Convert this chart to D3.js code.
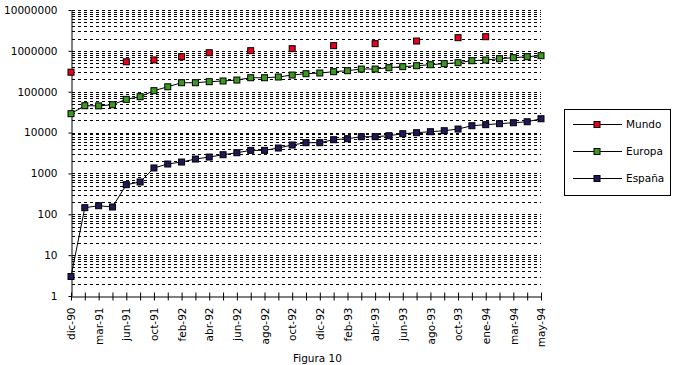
<!DOCTYPE html>
<html>
<head>
<meta charset="utf-8">
<script src="https://cdn.jsdelivr.net/npm/d3@7"></script>
<style>
  body { margin: 0; background: #fff; }
  svg text { font-family: "DejaVu Sans", sans-serif; fill: #000; }
</style>
</head>
<body>
<script>
const w = 676;
const h = 365;
const plotLeft = 71;
const plotRight = 541;
const plotTop = 10;
const plotBottom = 296;

const months = [
  "dic-90", "feb-91", "mar-91", "may-91", "jun-91", "ago-91", "oct-91", "dic-91",
  "feb-92", "mar-92", "abr-92", "may-92", "jun-92", "jul-92", "ago-92", "sep-92",
  "oct-92", "nov-92", "dic-92", "ene-93", "feb-93", "mar-93", "abr-93", "may-93",
  "jun-93", "jul-93", "ago-93", "sep-93", "oct-93", "dic-93", "ene-94", "feb-94",
  "mar-94", "abr-94", "may-94"
];

// null = no value that month
const mundo = [
  300000, null, null, null, 540000, null, 600000, null,
  720000, null, 900000, null, null, 1010000, null, null,
  1130000, null, null, 1340000, null, null, 1500000, null,
  null, 1740000, null, null, 2100000, null, 2220000, null,
  null, null, null
];

const europa = [
  29000, 45400, 45000, 48000, 65000, 75500, 106000, 132000,
  166000, 166000, 176000, 183000, 193000, 220000, 220000, 229000,
  256000, 276000, 287000, 309000, 327000, 359000, 359000, 387000,
  410000, 433000, 458000, 485000, 513000, 574000, 597000, 643000,
  680000, 719000, 761000
];

const espana = [
  3, 145, 162, 151, 530, 617, 1360, 1700,
  1900, 2250, 2520, 2870, 3210, 3670, 3670, 4190,
  4960, 5650, 5650, 6690, 7080, 7920, 7920, 8380,
  9380, 9930, 10500, 11100, 12200, 14700, 15600, 16500,
  17400, 18400, 21800
];

const yTicks = [1, 10, 100, 1000, 10000, 100000, 1000000, 10000000];

const seriesNames = ["Mundo", "Europa", "España"];
const seriesColors = ["#e8001c", "#3a9a1f", "#1e1a5a"];

const svg = d3.select("body").append("svg")
  .attr("width", w)
  .attr("height", h);

const x = d3.scalePoint().domain(months).range([plotLeft, plotRight]);
const y = d3.scaleLog().domain([1, 10000000]).range([plotBottom, plotTop]);

// dashed grid lines at every log step
const gridVals = [];
for (let e = 0; e < 7; e++) {
  for (let m = 2; m <= 10; m++) gridVals.push(m * Math.pow(10, e));
}
svg.append("g")
  .selectAll("line")
  .data(gridVals)
  .enter()
  .append("line")
  .attr("x1", plotLeft + 1)
  .attr("x2", plotRight)
  .attr("y1", (d) => Math.round(y(d)) + 0.5)
  .attr("y2", (d) => Math.round(y(d)) + 0.5)
  .attr("stroke", "#000")
  .attr("stroke-width", 1)
  .attr("stroke-dasharray", "3,3");

// y axis
const yAxis = d3.axisLeft(y)
  .tickValues(yTicks)
  .tickFormat(d3.format("d"))
  .tickSize(3)
  .tickSizeOuter(0)
  .tickPadding(11);
svg.append("g")
  .attr("transform", `translate(${plotLeft + 0.5}, 0)`)
  .call(yAxis)
  .call((g) => g.selectAll("text").attr("font-size", "10.5px").style("font-family", "DejaVu Sans"))
  .call((g) => g.selectAll("line").attr("stroke", "#000"))
  .call((g) => g.select(".domain").attr("stroke", "#000"));

// x axis, ticks cross the axis line
const xAxis = d3.axisBottom(x)
  .tickSize(4)
  .tickSizeOuter(0)
  .tickFormat((d, i) => (i % 2 === 0 ? d : ""));
svg.append("g")
  .attr("transform", `translate(0, ${plotBottom + 0.5})`)
  .call(xAxis)
  .call((g) => g.select(".domain").attr("stroke", "#000"))
  .call((g) => g.selectAll(".tick line").attr("y1", -4).attr("y2", 4).attr("stroke", "#000"))
  .call((g) => g.selectAll(".tick text")
    .attr("font-size", "10.5px")
    .style("font-family", "DejaVu Sans")
    .attr("transform", "rotate(-90)")
    .attr("text-anchor", "end")
    .attr("x", -11)
    .attr("y", 0)
    .attr("dy", "0.35em"));

const all = [mundo, europa, espana];
const line = d3.line()
  .defined((d) => d != null)
  .x((d, i) => x(months[i]))
  .y((d) => y(d));

// Europa and España are joined by a line, Mundo markers only
[europa, espana].forEach((s) => {
  svg.append("path")
    .datum(s)
    .attr("fill", "none")
    .attr("stroke", "#000")
    .attr("stroke-width", 1)
    .attr("d", line);
});

const ms = 6;
all.forEach((s, k) => {
  svg.append("g")
    .selectAll("rect")
    .data(s.map((v, i) => ({ v, i })).filter((d) => d.v != null))
    .enter()
    .append("rect")
    .attr("x", (d) => x(months[d.i]) - ms / 2)
    .attr("y", (d) => y(d.v) - ms / 2)
    .attr("width", ms)
    .attr("height", ms)
    .attr("fill", seriesColors[k])
    .attr("stroke", "#000")
    .attr("stroke-width", 1);
});

// legend
const legend = svg.append("g").attr("transform", "translate(564, 109)");
legend.append("rect")
  .attr("x", 0.5)
  .attr("y", 0.5)
  .attr("width", 106)
  .attr("height", 86)
  .attr("fill", "#fff")
  .attr("stroke", "#000");
const rowY = [15, 42, 69];
seriesNames.forEach((name, k) => {
  const g = legend.append("g").attr("transform", `translate(0, ${rowY[k] + 0.5})`);
  g.append("line").attr("x1", 9).attr("x2", 58).attr("stroke", "#000");
  g.append("rect")
    .attr("x", 33 - ms / 2)
    .attr("y", -ms / 2)
    .attr("width", ms)
    .attr("height", ms)
    .attr("fill", seriesColors[k])
    .attr("stroke", "#000");
  g.append("text")
    .attr("x", 62)
    .attr("dy", "0.35em")
    .attr("font-size", "10.5px")
    .text(name);
});

svg.append("text")
  .attr("x", 293)
  .attr("y", 362)
  .attr("font-size", "10.5px")
  .text("Figura 10");
</script>
</body>
</html>
